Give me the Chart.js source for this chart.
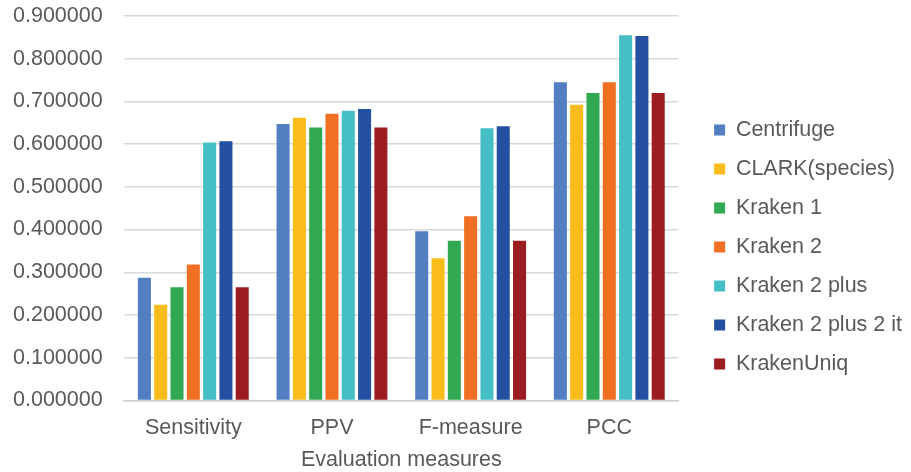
<!DOCTYPE html>
<html>
<head>
<meta charset="utf-8">
<script src="https://cdn.jsdelivr.net/npm/chart.js@4.4.1/dist/chart.umd.min.js"></script>
<style>
	html, body { margin: 0; padding: 0; background: #ffffff; }
	#bar-chart { display: block; }
</style>
</head>
<body>
<canvas id="bar-chart" width="911" height="472"></canvas>
<script>
// categories on the x axis
const measures = ['Sensitivity', 'PPV', 'F-measure', 'PCC'];

// one array per tool
const centrifuge = [0.287, 0.647, 0.396, 0.745];
const clarkSpecies = [0.224, 0.662, 0.333, 0.692];
const kraken1 = [0.265, 0.639, 0.374, 0.720];
const kraken2 = [0.318, 0.671, 0.431, 0.745];
const kraken2Plus = [0.604, 0.678, 0.637, 0.855];
const kraken2Plus2it = [0.607, 0.682, 0.642, 0.853];
const krakenUniq = [0.265, 0.639, 0.374, 0.720];

const yTicks = [0, 0.1, 0.2, 0.3, 0.4, 0.5, 0.6, 0.7, 0.8, 0.9];

const textColor = '#595959';
const font = { family: '"Liberation Sans", Arial, sans-serif', size: 21.5 };

const series = [
	{ label: 'Centrifuge', data: centrifuge, color: '#527fc2' },
	{ label: 'CLARK(species)', data: clarkSpecies, color: '#f9bc1a' },
	{ label: 'Kraken 1', data: kraken1, color: '#33a853' },
	{ label: 'Kraken 2', data: kraken2, color: '#f06f22' },
	{ label: 'Kraken 2 plus', data: kraken2Plus, color: '#45bec6' },
	{ label: 'Kraken 2 plus 2 it', data: kraken2Plus2it, color: '#2350a0' },
	{ label: 'KrakenUniq', data: krakenUniq, color: '#9b1d20' },
];

const chartData = {
	labels: measures,
	datasets: series.map((s) => ({
		label: s.label,
		data: s.data,
		backgroundColor: s.color,
		borderWidth: 0,
		categoryPercentage: 0.823,
		barPercentage: 0.8,
	})),
};

new Chart(document.getElementById('bar-chart'), {
	type: 'bar',
	data: chartData,
	options: {
		responsive: false,
		animation: false,
		layout: {
			padding: { left: 13, top: 16, right: -1, bottom: -1 },
		},
		plugins: {
			tooltip: { enabled: false },
			legend: {
				position: 'right',
				maxWidth: 300,
				// blank title, only nudges the legend items down a little
				title: {
					display: true,
					text: ' ',
					font: { size: 2 },
					padding: { top: 2.6, bottom: 0 },
				},
				labels: {
					color: textColor,
					font: font,
					boxWidth: 11,
					boxHeight: 11,
					padding: 17.5,
				},
			},
		},
		scales: {
			x: {
				grid: { display: false, drawTicks: false },
				border: { display: true, color: '#d0d0d0', width: 1.5 },
				ticks: { color: textColor, font: font, padding: 15 },
				title: {
					display: true,
					text: 'Evaluation measures',
					color: textColor,
					font: font,
					padding: { top: -9, bottom: 0 },
				},
			},
			y: {
				min: 0,
				max: 0.9,
				afterBuildTicks: (scale) => {
					scale.ticks = yTicks.map((v) => ({ value: v }));
				},
				afterFit: (scale) => {
					scale.width = 111;
				},
				grid: { color: '#d9d9d9', lineWidth: 1.5, drawTicks: false },
				border: { display: false },
				ticks: {
					color: textColor,
					font: font,
					padding: 0,
					crossAlign: 'far',
					callback: (value) => Number(value).toFixed(6),
				},
			},
			// empty axis that only keeps a gap between the plot and the legend
			gap: {
				position: 'right',
				display: true,
				grid: { display: false, drawTicks: false },
				border: { display: false },
				ticks: { display: false },
				afterFit: (scale) => {
					scale.width = 18;
				},
			},
		},
	},
});
</script>
</body>
</html>
